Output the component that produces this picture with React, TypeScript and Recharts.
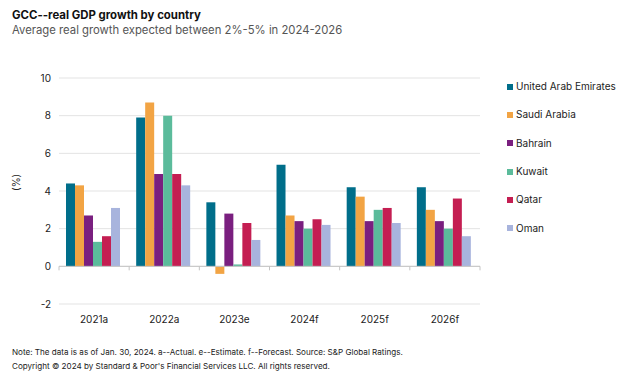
import React from 'react';
import { BarChart, Bar, XAxis, YAxis, CartesianGrid, ReferenceLine, Label } from 'recharts';

const categories = ['2021a', '2022a', '2023e', '2024f', '2025f', '2026f'];
const uae = [4.4, 7.9, 3.4, 5.4, 4.2, 4.2];
const saudi = [4.3, 8.7, -0.4, 2.7, 3.7, 3.0];
const bahrain = [2.7, 4.9, 2.8, 2.4, 2.4, 2.4];
const kuwait = [1.3, 8.0, 0.1, 2.0, 3.0, 2.0];
const qatar = [1.6, 4.9, 2.3, 2.5, 3.1, 3.6];
const oman = [3.1, 4.3, 1.4, 2.2, 2.3, 1.6];
const yTicks = [-2, 0, 2, 4, 6, 8, 10];

const series = [
  { key: 'uae', name: 'United Arab Emirates', values: uae, color: '#006E8A' },
  { key: 'saudi', name: 'Saudi Arabia', values: saudi, color: '#F2A444' },
  { key: 'bahrain', name: 'Bahrain', values: bahrain, color: '#7A1F7F' },
  { key: 'kuwait', name: 'Kuwait', values: kuwait, color: '#5BBB9B' },
  { key: 'qatar', name: 'Qatar', values: qatar, color: '#C41E52' },
  { key: 'oman', name: 'Oman', values: oman, color: '#A8B4DD' },
];

const data = categories.map((c, i) => {
  const row: any = { cat: c };
  series.forEach((s) => (row[s.key] = s.values[i]));
  return row;
});

const FONT = 'Inter, "Open Sans", Arial, sans-serif';

const ZeroLine = (props: any) => {
  const { x1, y1, x2 } = props;
  if (x1 == null || y1 == null || x2 == null) return null;
  const n = categories.length;
  const w = (x2 - x1) / n;
  const ticks = [];
  for (let i = 0; i <= n; i++) {
    const x = x1 + i * w;
    ticks.push(<line key={i} x1={x} y1={y1} x2={x} y2={y1 + 4} stroke="#c4c4c4" strokeWidth={1} />);
  }
  return (
    <g>
      <line x1={x1} y1={y1} x2={x2} y2={y1} stroke="#c4c4c4" strokeWidth={1} />
      {ticks}
    </g>
  );
};

export default function App() {
  return (
    <div style={{ position: 'absolute', left: 0, top: 0, width: 620, height: 374, background: '#fff', fontFamily: FONT }}>
      <div style={{ position: 'absolute', left: 12, top: 8, fontSize: 11.4, fontWeight: 700, color: '#111', whiteSpace: 'nowrap' }}>
        GCC--real GDP growth by country
      </div>
      <div style={{ position: 'absolute', left: 12, top: 23, fontSize: 11.3, color: '#555', whiteSpace: 'nowrap' }}>
        Average real growth expected between 2%-5% in 2024-2026
      </div>
      <BarChart
        width={620}
        height={374}
        data={data}
        margin={{ top: 78, right: 140, bottom: 40, left: 19 }}
        barCategoryGap="10%"
        barGap={0}
      >
        <CartesianGrid vertical={false} stroke="#e3e3e3" />
        <XAxis
          dataKey="cat"
          axisLine={false}
          tickLine={false}
          tickMargin={6}
          tick={{ fontSize: 10, fill: '#222', fontFamily: FONT }}
          interval={0}
        />
        <YAxis
          width={40}
          domain={[-2, 10]}
          ticks={yTicks}
          axisLine={false}
          tickLine={false}
          tickSize={0}
          tickMargin={8}
          tick={{ fontSize: 10, fill: '#222', fontFamily: FONT }}
        >
          <Label value="(%)" angle={-90} position="insideLeft" offset={-3} style={{ fontSize: 10, fill: '#222', fontFamily: FONT }} />
        </YAxis>
        <ReferenceLine y={0} stroke="#c4c4c4" shape={ZeroLine} />
        {series.map((s) => (
          <Bar key={s.key} dataKey={s.key} name={s.name} fill={s.color} isAnimationActive={false} />
        ))}
      </BarChart>
      <div style={{ position: 'absolute', left: 507, top: 72.5 }}>
        {series.map((s) => (
          <div key={s.key} style={{ display: 'flex', alignItems: 'center', height: 28.3 }}>
            <div style={{ width: 6, height: 6, background: s.color, marginRight: 3 }} />
            <div style={{ fontSize: 10, color: '#222', whiteSpace: 'nowrap', lineHeight: '13px' }}>{s.name}</div>
          </div>
        ))}
      </div>
      <div style={{ position: 'absolute', left: 12, top: 346, fontSize: 8.1, color: '#222', whiteSpace: 'nowrap', lineHeight: '13.5px' }}>
        Note: The data is as of Jan. 30, 2024. a--Actual. e--Estimate. f--Forecast. Source: S&amp;P Global Ratings.
        <br />
        Copyright © 2024 by Standard &amp; Poor's Financial Services LLC. All rights reserved.
      </div>
    </div>
  );
}
